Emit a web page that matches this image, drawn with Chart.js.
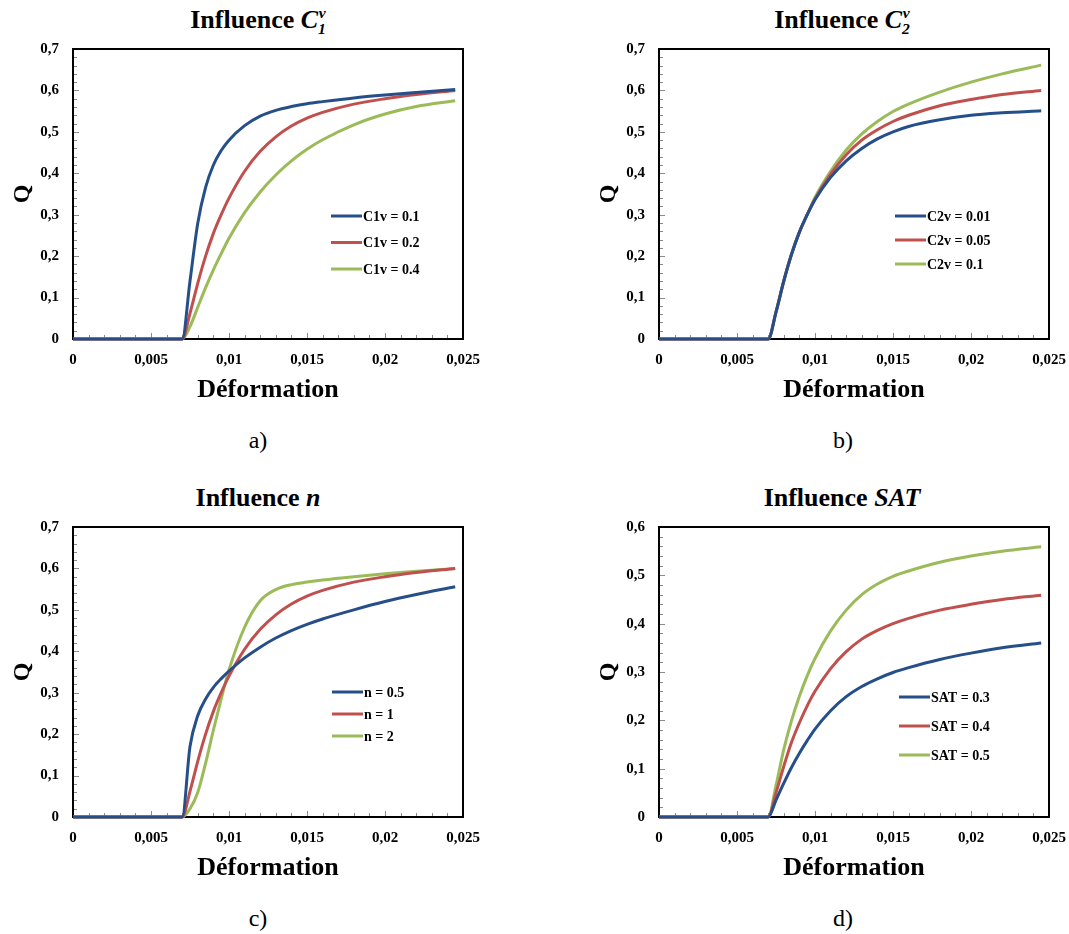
<!DOCTYPE html>
<html lang="fr">
<head>
<meta charset="utf-8">
<title>Influence des paramètres</title>
<script src="https://cdn.jsdelivr.net/npm/chart.js@4.4.1/dist/chart.umd.min.js"></script>
<style>
  html, body { margin: 0; padding: 0; background: #fff; }
  body { width: 1069px; height: 934px; position: relative; overflow: hidden;
         font-family: "Liberation Serif", "Times New Roman", serif; color: #000; }
  .panel { position: absolute; width: 520px; height: 420px; }
  .titre { position: absolute; width: 400px; margin-left: -200px; text-align: center;
           font-weight: bold; font-size: 26px; line-height: 30px; }
  .titre sub, .titre sup { font-size: 0.6em; line-height: 0; }
  .sous { position: absolute; width: 60px; margin-left: -30px; text-align: center;
          font-size: 24px; line-height: 28px; }
</style>
</head>
<body>
  <div class="titre" style="left:258px; top:5px">Influence <i>C<sub>1</sub><sup style="margin-left:-0.45em">v</sup></i></div>
  <div class="titre" style="left:842px; top:5px">Influence <i>C<sub>2</sub><sup style="margin-left:-0.45em">v</sup></i></div>
  <div class="titre" style="left:258px; top:483px">Influence <i>n</i></div>
  <div class="titre" style="left:842px; top:483px">Influence <i>SAT</i></div>

  <div class="panel" style="left:0; top:0"><canvas id="grA"></canvas></div>
  <div class="panel" style="left:586px; top:0"><canvas id="grB"></canvas></div>
  <div class="panel" style="left:0; top:478px"><canvas id="grC"></canvas></div>
  <div class="panel" style="left:586px; top:478px"><canvas id="grD"></canvas></div>

  <div class="sous" style="left:258px; top:426px">a)</div>
  <div class="sous" style="left:843px; top:426px">b)</div>
  <div class="sous" style="left:258px; top:904px">c)</div>
  <div class="sous" style="left:843px; top:904px">d)</div>

<script>
  "use strict";

  // déformation (abscisse commune)
  const deformation = [0, 0.007, 0.0075, 0.008, 0.0085, 0.009, 0.0095, 0.010, 0.011,
    0.012, 0.013, 0.014, 0.015, 0.016, 0.018, 0.020, 0.022, 0.0245];

  // a) influence C1v
  const labelsC1 = ["C1v = 0.1", "C1v = 0.2", "C1v = 0.4"];
  const c1v01 = [0, 0, 0.14, 0.28, 0.366, 0.42, 0.455, 0.48, 0.515, 0.538, 0.552, 0.561, 0.568, 0.573, 0.582, 0.589, 0.595, 0.602];
  const c1v02 = [0, 0, 0.062, 0.135, 0.2, 0.255, 0.3, 0.34, 0.405, 0.453, 0.488, 0.514, 0.533, 0.547, 0.567, 0.58, 0.59, 0.6];
  const c1v04 = [0, 0, 0.03, 0.077, 0.124, 0.167, 0.206, 0.243, 0.305, 0.355, 0.396, 0.43, 0.458, 0.481, 0.517, 0.543, 0.561, 0.575];

  // b) influence C2v
  const labelsC2 = ["C2v = 0.01", "C2v = 0.05", "C2v = 0.1"];
  const c2v001 = [0, 0, 0.065, 0.14, 0.205, 0.258, 0.3, 0.336, 0.39, 0.43, 0.46, 0.483, 0.5, 0.513, 0.529, 0.54, 0.546, 0.551];
  const c2v005 = [0, 0, 0.065, 0.14, 0.205, 0.258, 0.3, 0.338, 0.398, 0.445, 0.48, 0.505, 0.525, 0.54, 0.563, 0.578, 0.59, 0.6];
  const c2v01 = [0, 0, 0.065, 0.14, 0.205, 0.258, 0.3, 0.342, 0.405, 0.456, 0.495, 0.525, 0.549, 0.567, 0.596, 0.62, 0.64, 0.661];

  // c) influence n
  const labelsN = ["n = 0.5", "n = 1", "n = 2"];
  const n05 = [0, 0, 0.17, 0.245, 0.285, 0.313, 0.334, 0.352, 0.384, 0.41, 0.432, 0.45, 0.465, 0.478, 0.5, 0.52, 0.537, 0.556];
  const n1 = [0, 0, 0.062, 0.135, 0.2, 0.255, 0.3, 0.34, 0.405, 0.453, 0.488, 0.514, 0.533, 0.547, 0.567, 0.58, 0.59, 0.6];
  const n2 = [0, 0, 0.02, 0.06, 0.13, 0.21, 0.285, 0.355, 0.458, 0.522, 0.549, 0.561, 0.567, 0.572, 0.58, 0.587, 0.593, 0.6];

  // d) influence SAT
  const labelsSat = ["SAT = 0.3", "SAT = 0.4", "SAT = 0.5"];
  const sat03 = [0, 0, 0.035, 0.07, 0.103, 0.132, 0.158, 0.182, 0.22, 0.249, 0.27, 0.286, 0.299, 0.309, 0.326, 0.339, 0.35, 0.36];
  const sat04 = [0, 0, 0.05, 0.105, 0.155, 0.195, 0.23, 0.26, 0.307, 0.342, 0.368, 0.386, 0.4, 0.411, 0.428, 0.44, 0.45, 0.459];
  const sat05 = [0, 0, 0.065, 0.14, 0.2, 0.25, 0.292, 0.328, 0.385, 0.428, 0.46, 0.482, 0.498, 0.509, 0.527, 0.54, 0.55, 0.559];

  const couleurs = ["#264f8a", "#c0504d", "#9bbb59"];
  const police = "'Liberation Serif', 'Times New Roman', serif";

  function virgule(v) {
    if (Math.abs(v) < 1e-9) return "0";
    return String(Number(v.toFixed(4))).replace(".", ",");
  }

  // cadre + petites graduations à l'intérieur
  const cadre = {
    id: "cadre",
    beforeDatasetsDraw(chart) {
      const { ctx, chartArea: a, scales } = chart;
      const ymax = scales.y.max;
      ctx.save();
      ctx.strokeStyle = "#8c8c8c";
      ctx.lineWidth = 1;
      ctx.beginPath();
      for (let i = 0; i <= 25; i++) {
        const px = Math.round(scales.x.getPixelForValue(i * 0.001)) + 0.5;
        const len = i % 5 === 0 ? 6 : 4;
        ctx.moveTo(px, a.bottom);
        ctx.lineTo(px, a.bottom - len);
      }
      const ny = Math.round(ymax / 0.02);
      for (let j = 0; j <= ny; j++) {
        const py = Math.round(scales.y.getPixelForValue(j * 0.02)) + 0.5;
        const len = j % 5 === 0 ? 6 : 4;
        ctx.moveTo(a.left, py);
        ctx.lineTo(a.left + len, py);
      }
      ctx.stroke();
      ctx.strokeStyle = "#000";
      ctx.lineWidth = 2;
      ctx.strokeRect(a.left, a.top, a.right - a.left, a.bottom - a.top);
      ctx.restore();
    },
  };

  // légende dans la zone de tracé
  const legende = {
    id: "legende",
    afterDraw(chart, args, opts) {
      const { ctx } = chart;
      ctx.save();
      ctx.font = "bold 14px " + police;
      ctx.textBaseline = "middle";
      chart.data.datasets.forEach((ds, i) => {
        const y = opts.y + i * opts.dy;
        ctx.strokeStyle = ds.borderColor;
        ctx.lineWidth = 3;
        ctx.beginPath();
        ctx.moveTo(opts.x, y);
        ctx.lineTo(opts.x + 31, y);
        ctx.stroke();
        ctx.fillStyle = "#000";
        ctx.fillText(ds.label, opts.x + 32, y + 1);
      });
      ctx.restore();
    },
  };

  function creerGraphe(id, labels, series, ymax, leg) {
    const canvas = document.getElementById(id);
    return new Chart(canvas.getContext("2d"), {
      type: "line",
      data: {
        datasets: series.map((s, i) => ({
          label: labels[i],
          data: deformation.map((x, k) => ({ x: x, y: s[k] })),
          borderColor: couleurs[i],
          backgroundColor: couleurs[i],
          borderWidth: 3,
          pointRadius: 0,
          cubicInterpolationMode: "monotone",
          fill: false,
          clip: false,
        })),
      },
      options: {
        responsive: false,
        animation: false,
        devicePixelRatio: 1,
        layout: { padding: { top: 49, right: 57, left: 0, bottom: 0 } },
        scales: {
          x: {
            type: "linear",
            min: 0,
            max: 0.025,
            afterFit: (s) => { s.height = 81; },
            grid: { display: false, drawTicks: false },
            border: { display: false },
            ticks: {
              stepSize: 0.005,
              padding: 12,
              color: "#000",
              font: { family: police, size: 15, weight: "bold" },
              callback: (v) => virgule(v),
            },
            title: {
              display: true,
              text: "Déformation",
              color: "#000",
              font: { family: police, size: 26, weight: "bold" },
              padding: { top: 0, bottom: 14 },
            },
          },
          y: {
            min: 0,
            max: ymax,
            afterFit: (s) => { s.width = 73; },
            grid: { display: false, drawTicks: false },
            border: { display: false },
            ticks: {
              stepSize: 0.1,
              padding: 14,
              color: "#000",
              font: { family: police, size: 15, weight: "bold" },
              callback: (v) => virgule(v),
            },
            title: {
              display: true,
              text: "Q",
              color: "#000",
              font: { family: police, size: 24, weight: "bold" },
              padding: { top: 8, bottom: 0 },
            },
          },
        },
        plugins: {
          legend: { display: false },
          tooltip: { enabled: false },
          legende: leg,
        },
      },
      plugins: [cadre, legende],
    });
  }

  function init() {
    ["grA", "grB", "grC", "grD"].forEach((id) => {
      const c = document.getElementById(id);
      c.width = 520;
      c.height = 420;
      c.style.width = "520px";
      c.style.height = "420px";
    });
    creerGraphe("grA", labelsC1, [c1v01, c1v02, c1v04], 0.7, { x: 331, y: 216, dy: 26.5 });
    creerGraphe("grB", labelsC2, [c2v001, c2v005, c2v01], 0.7, { x: 309, y: 216, dy: 24 });
    creerGraphe("grC", labelsN, [n05, n1, n2], 0.7, { x: 332, y: 214, dy: 22 });
    creerGraphe("grD", labelsSat, [sat03, sat04, sat05], 0.6, { x: 313, y: 219, dy: 29 });
  }

  init();
</script>
</body>
</html>
